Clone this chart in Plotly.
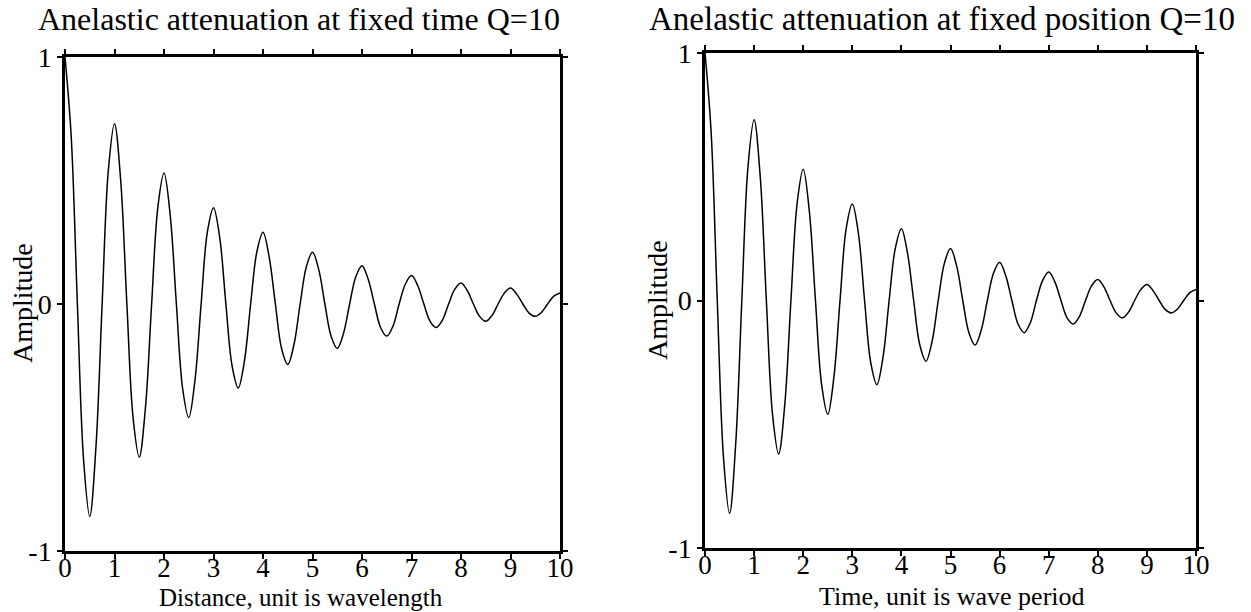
import plotly.graph_objects as go

x_vals = [i / 8 for i in range(81)]
# Amplitudes (fixed time)
amp_distance = [1.00, 0.68, 0.00, -0.63, -0.86, -0.58, 0.00, 0.54,
                0.73, 0.50, 0.00, -0.46, -0.62, -0.42, 0.00, 0.39,
                0.53, 0.36, 0.00, -0.34, -0.46, -0.31, 0.00, 0.29,
                0.39, 0.27, 0.00, -0.25, -0.34, -0.23, 0.00, 0.21,
                0.29, 0.19, 0.00, -0.18, -0.245, -0.165, 0.00, 0.15,
                0.21, 0.14, 0.00, -0.13, -0.18, -0.12, 0.00, 0.11,
                0.155, 0.10, 0.00, -0.095, -0.13, -0.09, 0.00, 0.08,
                0.115, 0.075, 0.00, -0.07, -0.095, -0.065, 0.00, 0.06,
                0.085, 0.055, 0.00, -0.05, -0.07, -0.047, 0.00, 0.044,
                0.065, 0.04, 0.00, -0.037, -0.05, -0.034, 0.00, 0.032,
                0.045]
# Amplitudes (fixed position)
amp_time = [1.00, 0.68, 0.00, -0.63, -0.86, -0.58, 0.00, 0.54,
            0.73, 0.50, 0.00, -0.46, -0.62, -0.42, 0.00, 0.39,
            0.53, 0.36, 0.00, -0.34, -0.46, -0.31, 0.00, 0.29,
            0.39, 0.27, 0.00, -0.25, -0.34, -0.23, 0.00, 0.21,
            0.29, 0.19, 0.00, -0.18, -0.245, -0.165, 0.00, 0.15,
            0.21, 0.14, 0.00, -0.13, -0.18, -0.12, 0.00, 0.11,
            0.155, 0.10, 0.00, -0.095, -0.13, -0.09, 0.00, 0.08,
            0.115, 0.075, 0.00, -0.07, -0.095, -0.065, 0.00, 0.06,
            0.085, 0.055, 0.00, -0.05, -0.07, -0.047, 0.00, 0.044,
            0.065, 0.04, 0.00, -0.037, -0.05, -0.034, 0.00, 0.032,
            0.045]

x_ticks = list(range(0, 11))
y_ticks = [-1, 0, 1]
y_tick_text = ["-1", "0", "1"]

titles = ["Anelastic attenuation at fixed time Q=10",
          "Anelastic attenuation at fixed position Q=10"]
x_titles = ["Distance, unit is wavelength", "Time, unit is wave period"]
y_title = "Amplitude"

W, H = 1251, 612
FONT = "Liberation Serif"

LINE = dict(color="black", width=1.5, shape="spline", smoothing=1.0)

fig = go.Figure()
fig.add_trace(go.Scatter(x=x_vals, y=amp_distance, mode="lines", line=LINE,
                         xaxis="x", yaxis="y", showlegend=False))
fig.add_trace(go.Scatter(x=x_vals, y=amp_time, mode="lines", line=LINE,
                         xaxis="x2", yaxis="y2", showlegend=False))
# invisible copies that carry the label-only x axes (tick labels sit close to the frame)
fig.add_trace(go.Scatter(x=x_vals, y=amp_distance, mode="lines", opacity=0, hoverinfo="skip",
                         line=LINE, xaxis="x3", yaxis="y", showlegend=False))
fig.add_trace(go.Scatter(x=x_vals, y=amp_time, mode="lines", opacity=0, hoverinfo="skip",
                         line=LINE, xaxis="x4", yaxis="y2", showlegend=False))

def xaxis(domain, anchor):
    return dict(domain=domain, anchor=anchor, range=[0, 10], tickvals=x_ticks,
                ticks="outside", ticklen=5, tickwidth=1.5, tickcolor="black",
                showline=True, linewidth=2.5, linecolor="black", mirror="ticks",
                showgrid=False, zeroline=False, automargin=False, showticklabels=False)

def xlabels(domain, overlay, ypix):
    return dict(domain=domain, overlaying=overlay, anchor="free", position=1 - ypix / H,
                side="bottom", range=[0, 10], tickvals=x_ticks, ticks="",
                showline=False, showgrid=False, zeroline=False, automargin=False,
                tickfont=dict(family=FONT, size=27, color="black"))

def yaxis(domain, anchor):
    return dict(domain=domain, anchor=anchor, range=[-1, 1], tickvals=y_ticks, ticktext=y_tick_text,
                ticks="outside", ticklen=5, tickwidth=1.5, tickcolor="black",
                showline=True, linewidth=2.5, linecolor="black", mirror="ticks",
                showgrid=False, zeroline=False, automargin=False,
                tickfont=dict(family=FONT, size=28, color="black"))

def ann(text, x, y, size, angle=0):
    return dict(text=text, x=x / W, y=1 - y / H, xref="paper", yref="paper",
                xanchor="center", yanchor="middle", textangle=angle,
                showarrow=False, font=dict(family=FONT, size=size, color="black"))

dom1 = [65 / W, 560 / W]
dom2 = [705 / W, 1196 / W]

fig.update_layout(
    width=W, height=H, margin=dict(l=0, r=0, t=0, b=0, autoexpand=False),
    paper_bgcolor="white", plot_bgcolor="white",
    xaxis=xaxis(dom1, "y"),
    yaxis=yaxis([1 - 551 / H, 1 - 57 / H], "x"),
    xaxis2=xaxis(dom2, "y2"),
    yaxis2=yaxis([1 - 548 / H, 1 - 53 / H], "x2"),
    xaxis3=xlabels(dom1, "x", 549),
    xaxis4=xlabels(dom2, "x2", 546),
    annotations=[
        ann(titles[0], 299, 19, 32),
        ann(titles[1], 942, 19, 33),
        ann(x_titles[0], 301, 597, 25),
        ann(x_titles[1], 952, 596, 26),
        ann(y_title, 22, 303, 28, -90),
        ann(y_title, 657, 300, 28, -90),
    ],
)

fig.write_html("out.html")
